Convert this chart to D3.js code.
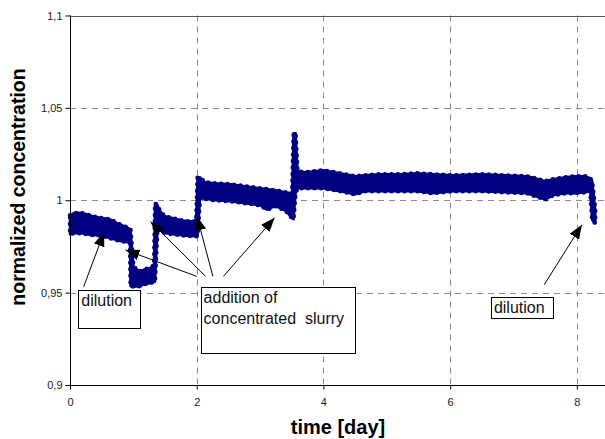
<!DOCTYPE html>
<html>
<head>
<meta charset="utf-8">
<script src="https://cdn.jsdelivr.net/npm/d3@7"></script>
<style>
    body { margin: 0; background: #fff; }
    svg { display: block; font-family: "Liberation Sans", Arial, sans-serif; }
</style>
</head>
<body>
<div id="chart"></div>
<script>
// measured series: time in days and the upper / lower edge of the noisy trace
const days = [0.000, 0.063, 0.158, 0.268, 0.363, 0.474, 0.632, 0.742, 0.900, 0.947, 0.955, 1.003,
    1.105, 1.184, 1.263, 1.326, 1.342, 1.382, 1.421, 1.500, 1.690, 1.847, 1.990, 2.013, 2.053,
    2.132, 2.290, 2.526, 2.763, 3.000, 3.111, 3.237, 3.395, 3.505, 3.529, 3.561, 3.592, 3.711,
    3.995, 4.263, 4.500, 4.658, 4.895, 5.211, 5.479, 5.732, 6.048, 6.474, 6.869, 7.216, 7.343,
    7.500, 7.627, 7.816, 7.974, 8.132, 8.211, 8.242, 8.290];
const upperConc = [0.9919, 0.9930, 0.9932, 0.9924, 0.9913, 0.9905, 0.9897, 0.9876, 0.9854, 0.9843, 0.9843, 0.9638,
    0.9616, 0.9627, 0.9632, 0.9648, 0.9984, 0.9973, 0.9941, 0.9913, 0.9897, 0.9886, 0.9886, 1.0124, 1.0124,
    1.0097, 1.0092, 1.0087, 1.0076, 1.0065, 1.0060, 1.0054, 1.0043, 1.0038, 1.0363, 1.0363, 1.0157, 1.0152,
    1.0162, 1.0146, 1.0130, 1.0135, 1.0141, 1.0141, 1.0146, 1.0141, 1.0135, 1.0141, 1.0135, 1.0130, 1.0119,
    1.0103, 1.0114, 1.0124, 1.0130, 1.0130, 1.0119, 1.0103, 0.9951];
const lowerConc = [0.9816, 0.9822, 0.9822, 0.9816, 0.9811, 0.9811, 0.9794, 0.9784, 0.9773, 0.9767, 0.9535, 0.9532,
    0.9535, 0.9546, 0.9551, 0.9559, 0.9559, 0.9849, 0.9838, 0.9822, 0.9813, 0.9808, 0.9805, 0.9805, 1.0011,
    1.0008, 1.0000, 0.9995, 0.9984, 0.9973, 0.9949, 0.9968, 0.9946, 0.9903, 0.9897, 1.0038, 1.0065, 1.0065,
    1.0065, 1.0049, 1.0032, 1.0049, 1.0049, 1.0049, 1.0049, 1.0038, 1.0049, 1.0049, 1.0043, 1.0038, 1.0022,
    1.0003, 1.0027, 1.0038, 1.0038, 1.0043, 1.0049, 0.9892, 0.9876];

const xTicks = [0, 2, 4, 6, 8];
const yTicks = [0.9, 0.95, 1, 1.05, 1.1];

// annotation arrows (tail -> tip) in data units
const arrowTails = [[0.216, 0.9532], [2.000, 0.9588], [2.140, 0.9588], [2.255, 0.9588], [2.421, 0.9588], [7.485, 0.9543]];
const arrowTips = [[0.537, 0.9827], [0.876, 0.9731], [1.271, 0.9884], [2.005, 0.9913], [3.229, 0.9905], [8.079, 0.9867]];

// annotation boxes: [day0, day1, top value, bottom value]
const noteBoxes = [[0.131, 1.116, 0.9516, 0.9308], [2.061, 4.485, 0.9528, 0.9173], [6.643, 7.622, 0.9476, 0.9360]];
const noteLines = [["dilution"], ["addition of", "concentrated  slurry"], ["dilution"]];

class ConcChart {
    constructor(_config) {
        this.config = {
            parentElement: _config.parentElement,
            width: 605,
            height: 439,
            margin: { left: 70, top: 15.5, bottom: 54 }
        };
        this.initVis();
    }

    initVis() {
        let vis = this;
        const m = vis.config.margin;

        vis.svg = d3.select(vis.config.parentElement).append('svg')
            .attr('width', vis.config.width)
            .attr('height', vis.config.height);

        vis.x = d3.scaleLinear().domain([0, 8.46]).range([m.left, 606]);
        vis.y = d3.scaleLinear().domain([0.9, 1.1]).range([vis.config.height - m.bottom, m.top]);

        const x0 = vis.x(0), x1 = vis.x.range()[1];
        const yTop = vis.y(1.1), yBot = vis.y(0.9);

        // dashed grid
        vis.svg.append('g').selectAll('line.hgrid')
            .data(yTicks.filter(d => d > 0.9 && d < 1.1))
            .join('line')
            .attr('x1', x0).attr('x2', x1)
            .attr('y1', d => Math.round(vis.y(d)) + 0.5).attr('y2', d => Math.round(vis.y(d)) + 0.5)
            .attr('stroke', '#8a8a8a').attr('stroke-dasharray', '6,5');

        vis.svg.append('g').selectAll('line.vgrid')
            .data(xTicks.filter(d => d > 0))
            .join('line')
            .attr('y1', yTop).attr('y2', yBot)
            .attr('x1', d => Math.round(vis.x(d)) + 0.5).attr('x2', d => Math.round(vis.x(d)) + 0.5)
            .attr('stroke', '#8a8a8a').attr('stroke-dasharray', '6,5');

        // top border of the plot area
        vis.svg.append('line')
            .attr('x1', x0).attr('x2', x1)
            .attr('y1', Math.round(yTop) + 0.5).attr('y2', Math.round(yTop) + 0.5)
            .attr('stroke', '#555');

        // the trace: filled band plus a dotted outline so the edge looks noisy
        const band = d3.area()
            .x((d, i) => vis.x(days[i]))
            .y0((d, i) => vis.y(lowerConc[i]))
            .y1((d, i) => vis.y(upperConc[i]));

        vis.svg.append('path')
            .attr('d', band(days))
            .attr('fill', '#000080')
            .attr('stroke', '#000080')
            .attr('stroke-width', 2.5)
            .attr('stroke-linejoin', 'round');

        vis.svg.append('path')
            .attr('d', band(days))
            .attr('fill', 'none')
            .attr('stroke', '#000080')
            .attr('stroke-width', 4.5)
            .attr('stroke-linecap', 'round')
            .attr('stroke-dasharray', '0,6.5');

        // axes
        const yAxis = d3.axisLeft(vis.y).tickValues(yTicks).tickSize(5)
            .tickFormat(d => d3.format('.2~f')(d).replace('.', ','));
        const xAxis = d3.axisBottom(vis.x).tickValues(xTicks).tickSize(4);

        const gy = vis.svg.append('g').attr('transform', `translate(${Math.round(x0) + 0.5},0)`).call(yAxis);
        gy.select('.domain').attr('d', `M0,${yTop}V${yBot}`).attr('stroke', '#000');
        gy.selectAll('.tick line').attr('stroke', '#000');
        gy.selectAll('.tick text').attr('x', -8).attr('fill', '#222')
            .style('font-size', '11px').style('font-family', '"Liberation Sans", Arial, sans-serif');

        const gx = vis.svg.append('g').attr('transform', `translate(0,${Math.round(yBot) + 0.5})`).call(xAxis);
        gx.select('.domain').attr('d', `M${x0},0H${x1}`).attr('stroke', '#000');
        gx.selectAll('.tick line').attr('stroke', '#000');
        gx.selectAll('.tick text').attr('y', 13).attr('fill', '#222')
            .style('font-size', '11px').style('font-family', '"Liberation Sans", Arial, sans-serif');

        // axis titles
        vis.svg.append('text')
            .attr('transform', 'translate(25,187) rotate(-90)')
            .attr('text-anchor', 'middle')
            .style('font-size', '19.5px').style('font-weight', 'bold')
            .text('normalized concentration');

        vis.svg.append('text')
            .attr('x', 338).attr('y', 434)
            .attr('text-anchor', 'middle')
            .style('font-size', '20px').style('font-weight', 'bold')
            .text('time [day]');

        // arrows
        vis.svg.append('defs').append('marker')
            .attr('id', 'head')
            .attr('markerUnits', 'userSpaceOnUse')
            .attr('markerWidth', 15).attr('markerHeight', 12)
            .attr('refX', 14).attr('refY', 5.5)
            .attr('orient', 'auto')
            .append('path').attr('d', 'M0,0L14,5.5L0,11Z').attr('fill', '#000');

        vis.svg.append('g').selectAll('line')
            .data(arrowTails)
            .join('line')
            .attr('x1', d => vis.x(d[0])).attr('y1', d => vis.y(d[1]))
            .attr('x2', (d, i) => vis.x(arrowTips[i][0])).attr('y2', (d, i) => vis.y(arrowTips[i][1]))
            .attr('stroke', '#000').attr('stroke-width', 1)
            .attr('marker-end', 'url(#head)');

        // annotation boxes
        const notes = vis.svg.append('g').selectAll('g')
            .data(noteBoxes)
            .join('g');

        notes.append('rect')
            .attr('x', d => Math.round(vis.x(d[0])) + 0.5)
            .attr('y', d => Math.round(vis.y(d[2])) + 0.5)
            .attr('width', d => Math.round(vis.x(d[1]) - vis.x(d[0])))
            .attr('height', d => Math.round(vis.y(d[3]) - vis.y(d[2])))
            .attr('fill', '#fff').attr('stroke', '#000');

        notes.each(function (d, i) {
            d3.select(this).selectAll('text')
                .data(noteLines[i])
                .join('text')
                .attr('x', vis.x(d[0]) + 3)
                .attr('y', (t, j) => vis.y(d[2]) + 16 + j * 20.7)
                .style('font-size', '16px')
                .attr('fill', '#111')
                .style('white-space', 'pre')
                .text(t => t);
        });
    }
}

new ConcChart({ parentElement: '#chart' });
</script>
</body>
</html>
